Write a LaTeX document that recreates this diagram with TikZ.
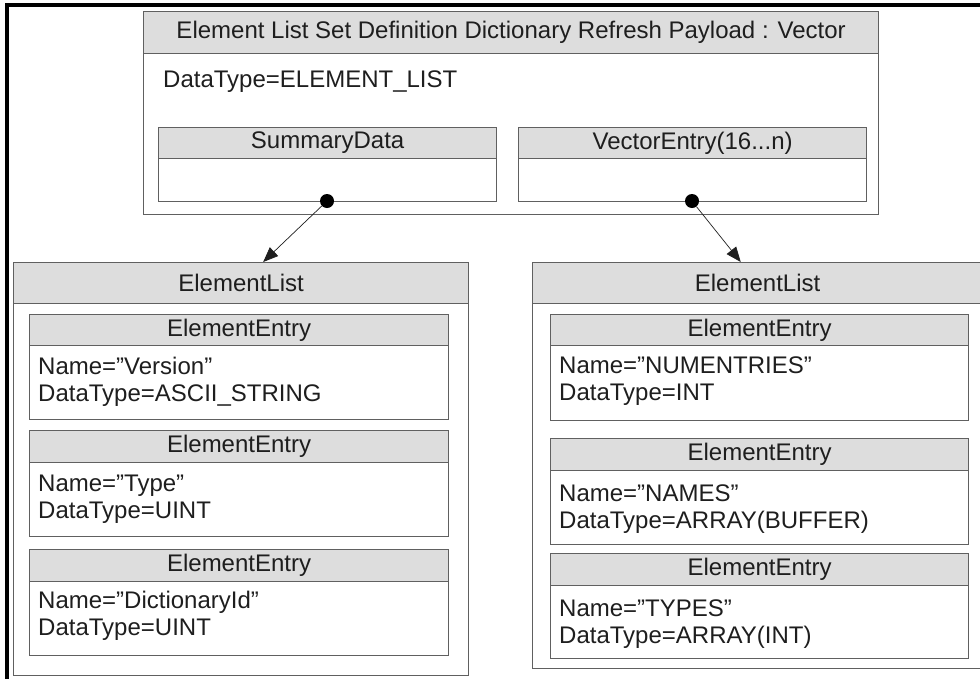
\documentclass[tikz,border=0pt]{standalone}
\usepackage{fontspec}
\setmainfont{Liberation Sans}
\usetikzlibrary{arrows.meta}
\definecolor{hdrgray}{RGB}{221,221,221}
\definecolor{linegray}{RGB}{96,96,96}
\definecolor{ink}{RGB}{30,30,30}
\newcommand{\lab}{\fontsize{24}{27}\selectfont}

\tikzset{
  hdr/.style={draw=linegray, fill=hdrgray, line width=1.2pt, inner sep=0pt, anchor=north west, font=\lab, text=ink},
  bodybox/.style={draw=linegray, line width=1.2pt, inner sep=0pt, anchor=north west},
  txt/.style={anchor=west, inner sep=0pt, font=\lab, text=ink, align=left},
  dot/.style={circle, fill=black, inner sep=0pt, minimum size=14pt},
  link/.style={draw=ink, line width=0.7pt, -{Triangle[length=15pt,width=12pt]}}
}

\begin{document}
\begin{tikzpicture}[x=1pt,y=-1pt]

\useasboundingbox (0,0) rectangle (980,678);

% frame
\draw[line width=4pt] (7,680) -- (7,4.5) -- (982,4.5);

% top vector box
\node[bodybox, minimum width=735pt, minimum height=203pt] (vecbody) at (143,11) {};
\node[hdr, minimum width=735pt, minimum height=42pt] (vechdr) at (143,11) {Element List Set Definition Dictionary Refresh Payload : Vector};
\node[txt] (vectype) at (163,82) {DataType=ELEMENT\_LIST};

\node[bodybox, minimum width=338pt, minimum height=74pt] (sumbody) at (158,127) {};
\node[hdr, minimum width=338pt, minimum height=31pt] (sumhdr) at (158,127) {SummaryData};

\node[bodybox, minimum width=348pt, minimum height=74pt] (entbody) at (518,127) {};
\node[hdr, minimum width=348pt, minimum height=31pt] (enthdr) at (518,127) {VectorEntry(16...n)};

% left element list
\node[bodybox, minimum width=455pt, minimum height=413pt] (lbody) at (13,262) {};
\node[hdr, minimum width=455pt, minimum height=41pt] (lhdr) at (13,262) {ElementList};

\node[bodybox, minimum width=419pt, minimum height=105pt] (la) at (29,314) {};
\node[hdr, minimum width=419pt, minimum height=31pt] (lahdr) at (29,314) {ElementEntry};
\node[txt] (latxt) at (38,382) {Name=”Version”\\DataType=ASCII\_STRING};

\node[bodybox, minimum width=419pt, minimum height=106pt] (lb) at (29,430) {};
\node[hdr, minimum width=419pt, minimum height=32pt] (lbhdr) at (29,430) {ElementEntry};
\node[txt] (lbtxt) at (38,499) {Name=”Type”\\DataType=UINT};

\node[bodybox, minimum width=419pt, minimum height=106pt] (lc) at (29,549) {};
\node[hdr, minimum width=419pt, minimum height=32pt] (lchdr) at (29,549) {ElementEntry};
\node[txt] (lctxt) at (38,616) {Name=”DictionaryId”\\DataType=UINT};

% right element list
\node[bodybox, minimum width=450pt, minimum height=406pt] (rbody) at (532,262) {};
\node[hdr, minimum width=450pt, minimum height=41pt] (rhdr) at (532,262) {ElementList};

\node[bodybox, minimum width=418pt, minimum height=106pt] (ra) at (550,314) {};
\node[hdr, minimum width=418pt, minimum height=31pt] (rahdr) at (550,314) {ElementEntry};
\node[txt] (ratxt) at (559,381) {Name=”NUMENTRIES”\\DataType=INT};

\node[bodybox, minimum width=418pt, minimum height=106pt] (rb) at (550,438) {};
\node[hdr, minimum width=418pt, minimum height=32pt] (rbhdr) at (550,438) {ElementEntry};
\node[txt] (rbtxt) at (559,509) {Name=”NAMES”\\DataType=ARRAY(BUFFER)};

\node[bodybox, minimum width=418pt, minimum height=105pt] (rc) at (550,553) {};
\node[hdr, minimum width=418pt, minimum height=32pt] (rchdr) at (550,553) {ElementEntry};
\node[txt] (rctxt) at (559,624) {Name=”TYPES”\\DataType=ARRAY(INT)};

% links
\node[dot] (ldot) at (327,201) {};
\node[dot] (rdot) at (692,201) {};
\draw[link] (ldot) -- (lhdr);
\draw[link] (rdot) -- (rhdr);

\end{tikzpicture}
\end{document}
